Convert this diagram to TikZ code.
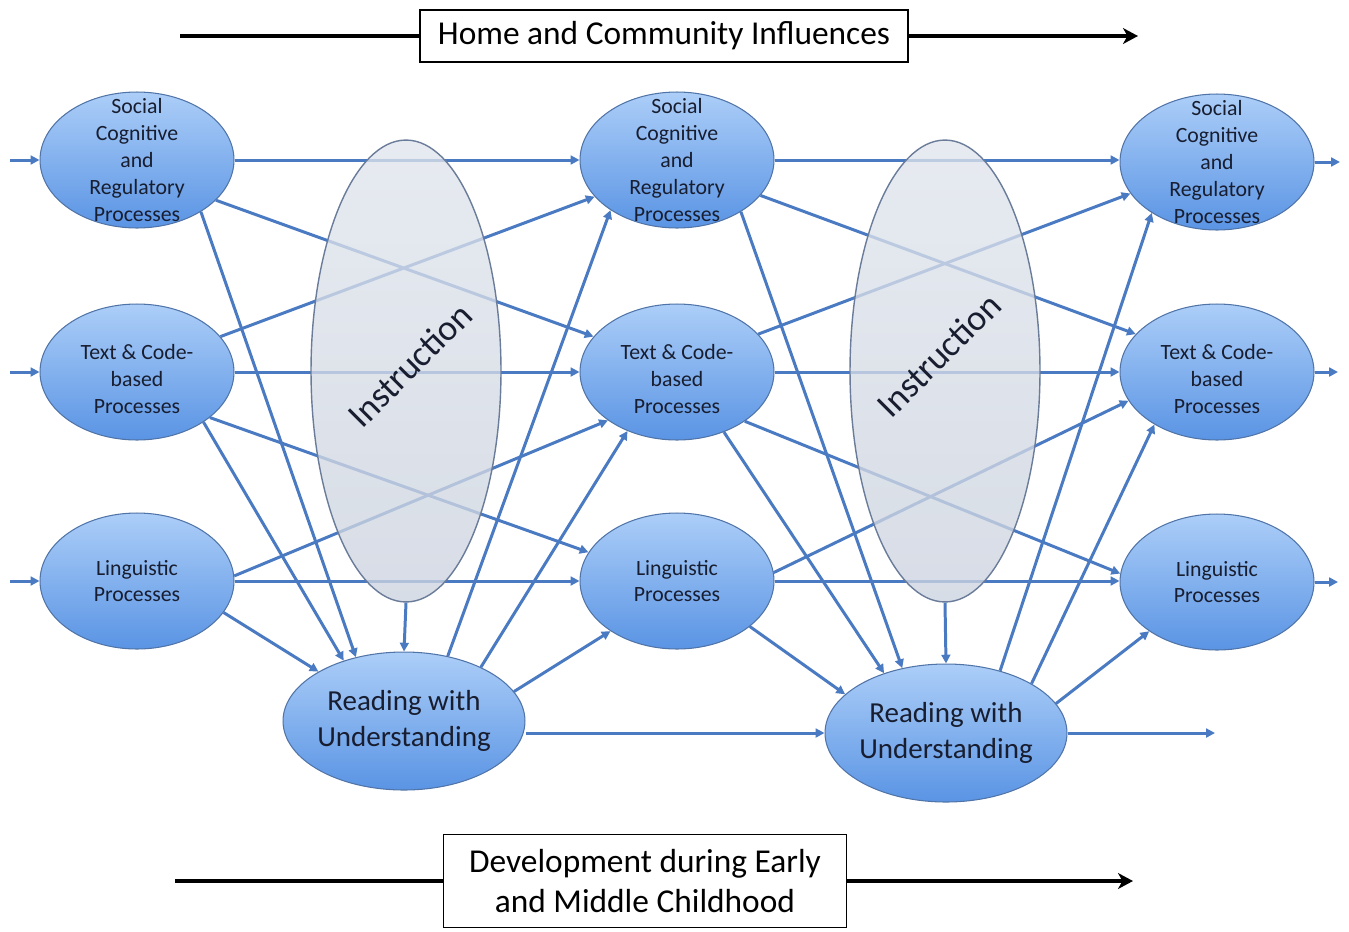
\documentclass[tikz,border=0pt]{standalone}
\usepackage{fontspec}
\setmainfont{Carlito}
\usetikzlibrary{arrows.meta,shapes.geometric}

\definecolor{flowblue}{RGB}{74,122,194}
\definecolor{procTop}{RGB}{172,206,248}
\definecolor{procBot}{RGB}{90,148,228}
\definecolor{procLine}{RGB}{80,116,168}
\definecolor{instrTop}{RGB}{224,229,237}
\definecolor{instrBot}{RGB}{204,211,223}
\definecolor{instrLine}{RGB}{106,124,154}
\definecolor{inkdark}{RGB}{24,30,48}

\tikzset{
  proc/.style={ellipse, draw=procLine, line width=0.6pt, top color=procTop,
    bottom color=procBot, minimum width=3.88cm, minimum height=2.72cm, inner sep=0pt},
  proctext/.style={font=\fontsize{12.4}{15.3}\selectfont, text=inkdark, align=center},
  reading/.style={proc, minimum width=4.84cm, minimum height=2.76cm},
  readtext/.style={font=\fontsize{16.5}{20.4}\selectfont, text=inkdark, align=center},
  instr/.style={ellipse, draw=instrLine, line width=0.8pt, top color=instrTop,
    bottom color=instrBot, fill opacity=0.78, minimum width=3.8cm, minimum height=9.24cm},
  instrtext/.style={font=\fontsize{20.5}{24}\selectfont, text=inkdark, rotate=45},
  flow/.style={draw=flowblue, line width=1.7pt, -{Triangle[length=5pt,width=5pt]}},
  band/.style={draw=black, line width=2pt, -{Stealth[length=8.5pt,width=9pt,inset=2.5pt]}},
  tag/.style={draw=black, line width=1pt, fill=white, font=\fontsize{19}{22.8}\selectfont,
    align=center, inner sep=0pt},
}

\begin{document}
\begin{tikzpicture}[x=0.02cm, y=-0.02cm]
\useasboundingbox (0,0) rectangle (1349,931);

% process columns
\node[proc, label={[proctext]center:{Social\\Cognitive\\and\\Regulatory\\Processes}}] (S1) at (137,160) {};
\node[proc, label={[proctext, yshift=-4pt]center:{Text \& Code-\\based\\Processes}}] (T1) at (137,372) {};
\node[proc, label={[proctext]center:{Linguistic\\Processes}}] (L1) at (137,581) {};
\node[proc, label={[proctext]center:{Social\\Cognitive\\and\\Regulatory\\Processes}}] (S2) at (677,160) {};
\node[proc, label={[proctext, yshift=-4pt]center:{Text \& Code-\\based\\Processes}}] (T2) at (677,372) {};
\node[proc, label={[proctext]center:{Linguistic\\Processes}}] (L2) at (677,581) {};
\node[proc, label={[proctext]center:{Social\\Cognitive\\and\\Regulatory\\Processes}}] (S3) at (1217,162) {};
\node[proc, label={[proctext, yshift=-4pt]center:{Text \& Code-\\based\\Processes}}] (T3) at (1217,372) {};
\node[proc, label={[proctext]center:{Linguistic\\Processes}}] (L3) at (1217,582) {};

\node[reading, label={[readtext]center:{Reading with\\Understanding}}] (R1) at (404,721) {};
\node[reading, label={[readtext]center:{Reading with\\Understanding}}] (R2) at (946,733) {};

% in and out
\coordinate (inS) at (10,160);
\coordinate (inT) at (10,372);
\coordinate (inL) at (10,581);
\coordinate (outS) at (1340,162);
\coordinate (outT) at (1338,372);
\coordinate (outL) at (1338,582);
\coordinate (outR) at (1215,733);
\draw[flow] (inS) -- (S1.west);
\draw[flow] (inT) -- (T1.west);
\draw[flow] (inL) -- (L1.west);
\draw[flow] (S3.east) -- (outS);
\draw[flow] (T3.east) -- (outT);
\draw[flow] (L3.east) -- (outL);

% first stage
\draw[flow] (S1.east) -- (S2.west);
\draw[flow] (S1.-27) -- (T2.157);
\draw[flow] (S1.-39) -- (R1.127);
\draw[flow] (T1.23) -- (S2.204);
\draw[flow] (T1.east) -- (T2.west);
\draw[flow] (T1.-32) -- (L2.162);
\draw[flow] (T1.-37) -- (R1.135);
\draw[flow] (L1.3) -- (T2.215);
\draw[flow] (L1.east) -- (L2.west);
\draw[flow] (L1.-20) -- (R1.150);
\draw[flow] (R1.56) -- (S2.217);
\draw[flow] (R1.35) -- (T2.230);
\draw[flow] (R1.15) -- (L2.217);
\draw[flow] (R1.east |- R2.west) -- (R2.west);

% second stage
\draw[flow] (S2.east) -- (S2.east -| S3.west);
\draw[flow] (S2.-23) -- (T3.155);
\draw[flow] (S2.-39) -- (R2.124);
\draw[flow] (T2.25) -- (S3.200);
\draw[flow] (T2.east) -- (T3.west);
\draw[flow] (T2.-36) -- (L3.175);
\draw[flow] (T2.-52) -- (R2.136);
\draw[flow] (L2.5) -- (T3.198);
\draw[flow] (L2.east) -- (L2.east -| L3.west);
\draw[flow] (L2.-32) -- (R2.159);
\draw[flow] (R2.49) -- (S3.218);
\draw[flow] (R2.30) -- (T3.220);
\draw[flow] (R2.15) -- (L3.216);
\draw[flow] (R2.east) -- (outR);

% instruction
\node[instr] (I1) at (406,371) {};
\node[instr] (I2) at (945,371) {};
\node[instrtext] (I1text) at (410,365) {Instruction};
\node[instrtext] (I2text) at (939,355) {Instruction};
\draw[flow] (I1.south) -- (R1.north);
\draw[flow] (I2.south) -- (R2.north);

% context bands
\coordinate (homeL) at (180,36);
\coordinate (homeR) at (1138,36);
\draw[band] (homeL) -- (homeR);
\node[tag, minimum width=9.76cm, minimum height=1.04cm] (home) at (664,36) {Home and Community Influences};
\coordinate (devL) at (175,881);
\coordinate (devR) at (1133,881);
\draw[band] (devL) -- (devR);
\node[tag, minimum width=8.06cm, minimum height=1.86cm] (dev) at (645,881) {Development during Early\\and Middle Childhood};
\end{tikzpicture}
\end{document}
